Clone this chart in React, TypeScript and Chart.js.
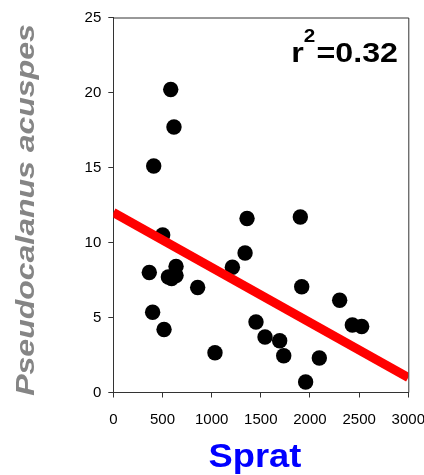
import React, { useEffect, useRef } from "react";
import { Chart, registerables } from "chart.js";

Chart.register(...registerables);

// Sprat biomass (x) and Pseudocalanus acuspes (y)
const spratValues = [366, 502, 400, 516, 560, 593, 638, 638, 858, 1034, 1211, 1340, 1360, 1451, 1543, 1692, 1733, 1902, 1916, 1956, 2095, 2302, 2431, 2526, 584, 617, 411];
const acuspesValues = [8.0, 10.5, 5.35, 4.2, 7.7, 7.6, 8.4, 7.8, 7.0, 2.65, 8.35, 9.3, 11.6, 4.7, 3.7, 3.45, 2.45, 11.7, 7.05, 0.7, 2.3, 6.15, 4.5, 4.4, 20.2, 17.7, 15.1];

// Regression line endpoints
const fitX = [0, 3000];
const fitY = [12.0, 1.0];

const xTicks = [0, 500, 1000, 1500, 2000, 2500, 3000];
const yTicks = [0, 5, 10, 15, 20, 25];

const xTitle = "Sprat";
const yTitle = "Pseudocalanus acuspes";
const r2Label = "0.32";

const FONT = '"Liberation Sans", Arial, sans-serif';
const AXIS_COLOR = "#333333";

const textPlugin = {
  id: "customText",
  afterDraw(chart: any) {
    const ctx = chart.ctx as CanvasRenderingContext2D;
    const area = chart.chartArea;
    // box top/right lines
    ctx.save();
    ctx.strokeStyle = AXIS_COLOR;
    ctx.lineWidth = 1;
    ctx.beginPath();
    ctx.moveTo(area.left, area.top + 0.5);
    ctx.lineTo(area.right + 0.5, area.top + 0.5);
    ctx.lineTo(area.right + 0.5, area.bottom);
    ctx.stroke();
    ctx.restore();

    // y title
    ctx.save();
    ctx.translate(34, 210);
    ctx.rotate(-Math.PI / 2);
    ctx.scale(1.23, 1);
    ctx.font = `italic bold 26px ${FONT}`;
    ctx.fillStyle = "#858585";
    ctx.textAlign = "center";
    ctx.textBaseline = "alphabetic";
    ctx.fillText(yTitle, 0, 0);
    ctx.restore();

    // x title
    ctx.save();
    ctx.translate(255, 467);
    ctx.scale(1.1, 1);
    ctx.font = `bold 33px ${FONT}`;
    ctx.fillStyle = "#0000ff";
    ctx.textAlign = "center";
    ctx.textBaseline = "alphabetic";
    ctx.fillText(xTitle, 0, 0);
    ctx.restore();

    // r^2 annotation
    ctx.save();
    ctx.translate(398, 61.7);
    ctx.scale(1.15, 1);
    ctx.fillStyle = "#000";
    ctx.textAlign = "right";
    ctx.textBaseline = "alphabetic";
    ctx.font = `bold 28px ${FONT}`;
    const main = "=" + r2Label;
    const w1 = ctx.measureText(main).width;
    ctx.fillText(main, 0, 0);
    ctx.font = `bold 18px ${FONT}`;
    const w2 = ctx.measureText("2").width;
    ctx.fillText("2", -w1 - 1, -20);
    ctx.font = `bold 28px ${FONT}`;
    ctx.fillText("r", -w1 - w2 - 1, 0);
    ctx.restore();
  },
};

export default function App() {
  const canvasRef = useRef<HTMLCanvasElement | null>(null);

  useEffect(() => {
    const canvas = canvasRef.current!;
    const chart = new Chart(canvas, {
      type: "scatter",
      data: {
        datasets: [
          {
            type: "line",
            data: fitX.map((x, i) => ({ x, y: fitY[i] })),
            borderColor: "#ff0000",
            borderWidth: 9,
            pointRadius: 0,
            fill: false,
            borderCapStyle: "butt",
          } as any,
          {
            type: "scatter",
            data: spratValues.map((x, i) => ({ x, y: acuspesValues[i] })),
            backgroundColor: "#000",
            borderColor: "#000",
            borderWidth: 0,
            pointStyle: "circle",
            pointRadius: 7.7,
          },
        ],
      },
      options: {
        animation: false,
        responsive: false,
        devicePixelRatio: 1,
        layout: { padding: { left: 0, top: 17.5, right: 15.7, bottom: 0 } },
        plugins: {
          legend: { display: false },
          tooltip: { enabled: false },
          title: { display: false },
        },
        scales: {
          x: {
            type: "linear",
            min: 0,
            max: 3000,
            afterBuildTicks: (scale: any) => {
              scale.ticks = xTicks.map((v) => ({ value: v }));
            },
            afterFit: (scale: any) => {
              scale.height = 82.5;
              scale.paddingLeft = 0;
              scale.paddingRight = 0;
            },
            ticks: {
              color: "#000",
              font: { family: FONT, size: 15 },
              padding: 13,
              maxRotation: 0,
              autoSkip: false,
              callback: (v: any) => String(v),
            },
            grid: {
              drawOnChartArea: false,
              drawTicks: true,
              tickLength: 5,
              color: AXIS_COLOR,
            },
            border: { color: AXIS_COLOR, width: 1 },
          },
          y: {
            type: "linear",
            min: 0,
            max: 25,
            afterBuildTicks: (scale: any) => {
              scale.ticks = yTicks.map((v) => ({ value: v }));
            },
            afterFit: (scale: any) => {
              scale.width = 113.3;
              scale.paddingTop = 0;
              scale.paddingBottom = 0;
            },
            ticks: {
              color: "#000",
              font: { family: FONT, size: 15 },
              padding: 7,
              autoSkip: false,
              callback: (v: any) => String(v),
            },
            grid: {
              drawOnChartArea: false,
              drawTicks: true,
              tickLength: 5,
              color: AXIS_COLOR,
            },
            border: { color: AXIS_COLOR, width: 1 },
          },
        },
      },
      plugins: [textPlugin],
    });
    return () => chart.destroy();
  }, []);

  return (
    <div style={{ position: "fixed", left: 0, top: 0, width: 424, height: 475, background: "#fff" }}>
      <canvas ref={canvasRef} width={424} height={475} style={{ display: "block" }} />
    </div>
  );
}
